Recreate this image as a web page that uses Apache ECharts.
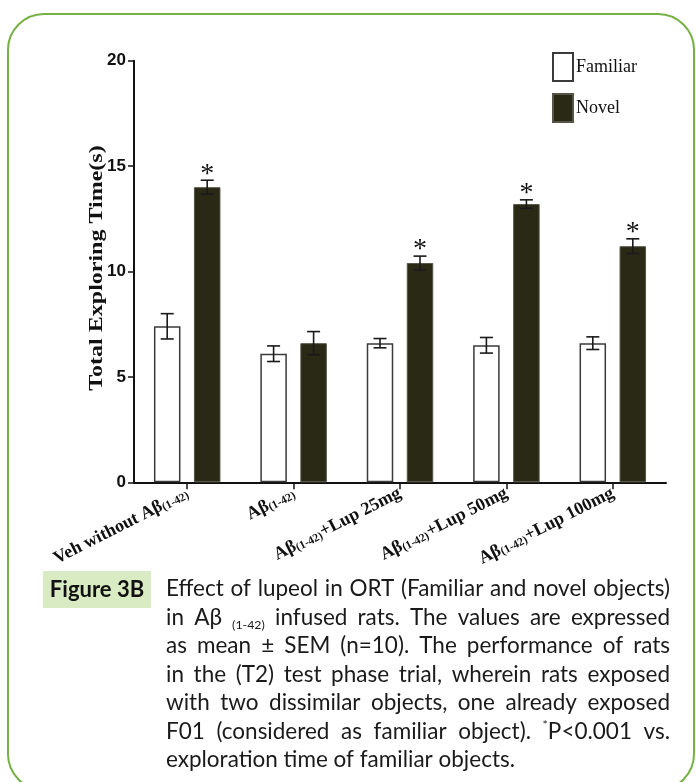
<!DOCTYPE html>
<html><head><meta charset="utf-8">
<script src="https://cdn.jsdelivr.net/npm/echarts@6/dist/echarts.min.js"></script>
<style>html,body{margin:0;padding:0;background:#fff}#c{width:696px;height:782px}</style>
</head><body><div id="c"></div>
<script>
// ---- data ----
const categories = ['Veh without Aβ(1-42)', 'Aβ(1-42)', 'Aβ(1-42)+Lup 25mg', 'Aβ(1-42)+Lup 50mg', 'Aβ(1-42)+Lup 100mg'];
const familiar = [7.4, 6.1, 6.6, 6.5, 6.6];
const familiarSem = [0.6, 0.37, 0.22, 0.37, 0.3];
const novel = [14.0, 6.6, 10.4, 13.2, 11.2];
const novelSem = [0.33, 0.55, 0.33, 0.2, 0.35];
const significant = [true, false, true, true, true];
const yMin = 0, yMax = 20, yStep = 5;
const seriesNames = ['Familiar', 'Novel'];
const yTitle = 'Total Exploring Time(s)';
const figLabel = 'Figure 3B';
const captionLines = [
  'Effect of lupeol in ORT (Familiar and novel objects)',
  'in Aβ _(1-42) infused rats. The values are expressed',
  'as mean ± SEM (n=10). The performance of rats',
  'in the (T2) test phase trial, wherein rats exposed',
  'with two dissimilar objects, one already exposed',
  'F01 (considered as familiar object). ^*P<0.001 vs.',
  'exploration time of familiar objects.'
];

// ---- style constants ----
const BAR_W = 26.5, BAR_GAP_PX = 13.5, OFF = (BAR_W + BAR_GAP_PX) / 2, CAP = 13;
const NOVEL_FILL = '#2a2916';
const GRID = {left: 134, top: 60.7, width: 532, height: 421.6};

const chart = echarts.init(document.getElementById('c'), null, {renderer: 'canvas'});

function labelFmt(v) {
  const parts = v.split('(1-42)');
  let out = '';
  parts.forEach((p, i) => {
    if (p) out += '{b|' + p + '}';
    if (i < parts.length - 1) out += '{s|(1-42)}';
  });
  return out;
}

function errRender(sign) {
  return function (params, api) {
    const xi = api.value(0), v = api.value(1), e = api.value(2);
    const top = api.coord([xi, v + e]), bot = api.coord([xi, v - e]);
    const x = top[0] + sign * OFF, h = CAP / 2;
    const st = {stroke: '#1a1a1a', lineWidth: 1.6};
    return {type: 'group', children: [
      {type: 'line', shape: {x1: x, y1: top[1], x2: x, y2: bot[1]}, style: st},
      {type: 'line', shape: {x1: x - h, y1: top[1], x2: x + h, y2: top[1]}, style: st},
      {type: 'line', shape: {x1: x - h, y1: bot[1], x2: x + h, y2: bot[1]}, style: st}
    ]};
  };
}

// ---- caption layout (justified, measured) ----
const mctx = document.createElement('canvas').getContext('2d');
const CAP_FONT_FAMILY = 'Lato';
const CAP_LEFT = 166, CAP_RIGHT = 670, CAP_W = CAP_RIGHT - CAP_LEFT;
const LINE_Y0 = 589, LINE_H = 28.5;
let capSize = 23;
function wordPieces(w, size) {
  if (w.startsWith('_')) return [{t: w.slice(1), size: size * 0.55, dy: size * 0.33}];
  if (w.startsWith('^')) return [{t: w.slice(1, 2), size: size * 0.55, dy: -size * 0.3}, {t: w.slice(2), size: size, dy: 0}];
  return [{t: w, size: size, dy: 0}];
}
function measure(t, size) { mctx.font = size + 'px ' + CAP_FONT_FAMILY; return mctx.measureText(t).width; }
function lineWidth(line, size) {
  const words = line.split(' ');
  let w = 0;
  words.forEach(wd => wordPieces(wd, size).forEach(p => w += measure(p.t, p.size)));
  return w + measure(' ', size) * (words.length - 1);
}
while (capSize > 12 && Math.max.apply(null, captionLines.map(l => lineWidth(l, capSize))) > CAP_W) capSize -= 0.5;

const captionEls = [];
captionLines.forEach((line, li) => {
  const words = line.split(' ');
  const pieces = words.map(wd => wordPieces(wd, capSize));
  const widths = pieces.map(ps => ps.reduce((a, p) => a + measure(p.t, p.size), 0));
  const total = widths.reduce((a, b) => a + b, 0);
  const last = li === captionLines.length - 1;
  const gap = last ? measure(' ', capSize) : (CAP_W - total) / (words.length - 1);
  let x = CAP_LEFT;
  const y = LINE_Y0 + li * LINE_H;
  pieces.forEach((ps) => {
    ps.forEach(p => {
      captionEls.push({type: 'text', silent: true, style: {
        text: p.t, x: x, y: y + p.dy, fill: '#1a1a1a',
        font: p.size + 'px ' + CAP_FONT_FAMILY, textAlign: 'left', textVerticalAlign: 'middle'}});
      x += measure(p.t, p.size);
    });
    x += gap;
  });
});

const option = {
  animation: false,
  backgroundColor: '#ffffff',
  grid: {left: GRID.left, top: GRID.top, width: GRID.width, height: GRID.height, containLabel: false},
  legend: {
    data: seriesNames, orient: 'vertical', left: 552, top: 52, padding: 0,
    itemWidth: 20, itemHeight: 28, itemGap: 11, icon: 'rect',
    textStyle: {fontFamily: 'Liberation Serif', fontSize: 18, color: '#111', padding: [0, 0, 0, -2]}
  },
  xAxis: {
    type: 'category', data: categories,
    axisLine: {lineStyle: {color: '#111', width: 2}},
    axisTick: {show: true, alignWithLabel: true, length: 7, lineStyle: {color: '#111', width: 1.5}},
    axisLabel: {
      interval: 0, rotate: 27, margin: 10, formatter: labelFmt,
      rich: {
        b: {fontFamily: 'Liberation Serif', fontWeight: 'bold', fontSize: 18, color: '#111'},
        s: {fontFamily: 'Liberation Serif', fontWeight: 'bold', fontSize: 11.5, color: '#111', verticalAlign: 'bottom'}
      }
    }
  },
  yAxis: {
    type: 'value', min: yMin, max: yMax, interval: yStep,
    axisLine: {show: true, lineStyle: {color: '#111', width: 2}},
    axisTick: {show: true, length: 6, lineStyle: {color: '#111', width: 1.5}},
    axisLabel: {margin: 8, fontFamily: 'Liberation Sans Narrow, Liberation Sans, Arial', fontWeight: 'bold', fontSize: 17, color: '#111'},
    splitLine: {show: false}
  },
  series: [
    {name: seriesNames[0], type: 'bar', data: familiar, barWidth: BAR_W, barGap: (BAR_GAP_PX / BAR_W * 100) + '%',
      itemStyle: {color: '#ffffff', borderColor: '#3a3a3a', borderWidth: 1.5}},
    {name: seriesNames[1], type: 'bar', data: novel, barWidth: BAR_W,
      itemStyle: {color: NOVEL_FILL, borderColor: '#555548', borderWidth: 1}},
    {type: 'custom', renderItem: errRender(-1), z: 5,
      data: familiar.map((v, i) => [i, v, familiarSem[i]]), encode: {x: 0, y: 1}},
    {type: 'custom', renderItem: errRender(1), z: 5,
      data: novel.map((v, i) => [i, v, novelSem[i]]), encode: {x: 0, y: 1}},
    {type: 'custom', z: 6, encode: {x: 0, y: 1},
      data: novel.map((v, i) => [i, v + novelSem[i]]).filter((d, i) => significant[i]),
      renderItem: function (params, api) {
        const p = api.coord([api.value(0), api.value(1)]);
        return {type: 'text', style: {text: '*', x: p[0] + OFF, y: p[1] - 6, fill: '#111',
          font: '28px Liberation Serif', textAlign: 'center', textVerticalAlign: 'middle'}};
      }}
  ],
  graphic: [
    {type: 'rect', silent: true, z: -1, shape: {x: 8, y: 14, width: 686, height: 776, r: 36},
      style: {fill: 'none', stroke: '#76b043', lineWidth: 2}},
    {type: 'text', silent: true, x: 97, y: 268, rotation: Math.PI / 2, scaleX: 1.2, scaleY: 0.95,
      style: {text: yTitle, x: 0, y: 0, fill: '#111', font: 'bold 20px Liberation Serif',
        textAlign: 'center', textVerticalAlign: 'middle'}},
    {type: 'rect', silent: true, shape: {x: 43, y: 571, width: 108, height: 37},
      style: {fill: '#d9ebc3'}},
    {type: 'text', silent: true, style: {text: figLabel, x: 97, y: 590, fill: '#111',
      font: 'bold 22px Lato', textAlign: 'center', textVerticalAlign: 'middle'}}
  ].concat(captionEls)
};
chart.setOption(option);
</script>
</body></html>
